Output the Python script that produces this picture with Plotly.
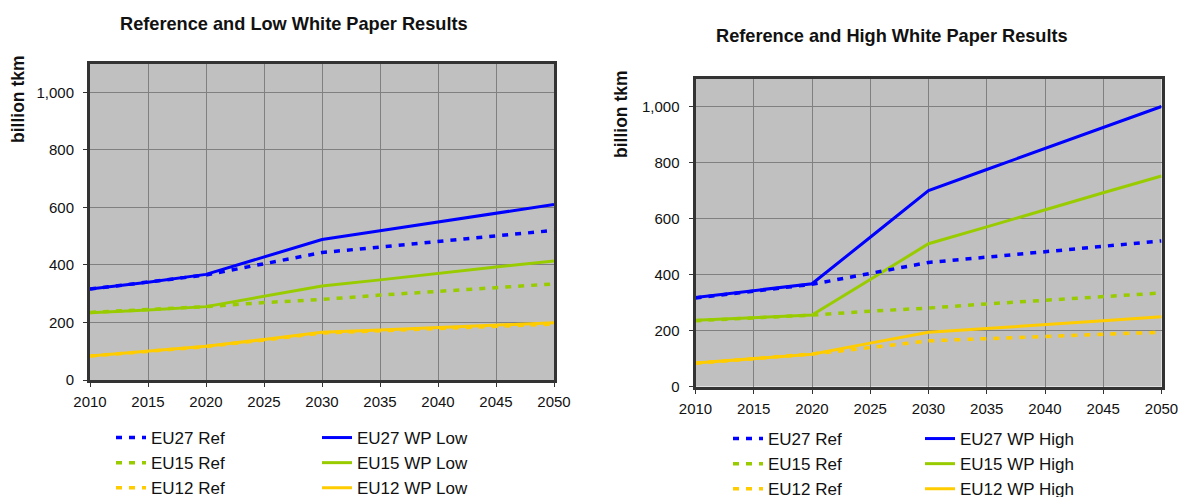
import plotly.graph_objects as go

years = [2010, 2015, 2020, 2025, 2030, 2035, 2040, 2045, 2050]

eu27_ref = [316, 340, 365, 404, 443, 462, 482, 500, 520]
eu15_ref = [235, 244, 255, 269, 280, 295, 307, 319, 334]
eu12_ref = [83, 100, 116, 139, 163, 171, 178, 186, 194]

eu27_low = [316, 340, 367, 428, 488, 519, 549, 580, 610]
eu15_low = [234, 243, 255, 290, 327, 348, 371, 393, 414]
eu12_low = [83, 100, 117, 141, 166, 174, 182, 190, 199]

eu27_high = [318, 342, 367, 533, 700, 775, 850, 925, 1000]
eu15_high = [237, 246, 255, 382, 510, 570, 632, 692, 752]
eu12_high = [84, 100, 115, 155, 194, 207, 220, 235, 249]

y_ticks = [0, 200, 400, 600, 800, 1000]
y_ticktext = ["0", "200", "400", "600", "800", "1,000"]
x_ticks = years

titles = ["Reference and Low White Paper Results", "Reference and High White Paper Results"]
y_title = "billion tkm"

BLUE = "#0000FF"
GREEN = "#99CC00"
YELLOW = "#FFCC00"
FONT = "Liberation Sans, Arial, sans-serif"
TXT = "#111111"

OFF = 0  # body margin removed by the post script below
W, H = 1180, 497


def px_x(s):
    return (s - OFF) / W


def px_y(s):
    return 1 - (s - OFF) / H


fig = go.Figure()


def add_panel(ax, leg_ref, leg_wp, ref_series, wp_series, wp_label):
    xa = "x" if ax == 1 else "x2"
    ya = "y" if ax == 1 else "y2"
    colors = [BLUE, GREEN, YELLOW]
    names = ["EU27", "EU15", "EU12"]
    for vals, c, n in zip(wp_series, colors, names):
        fig.add_trace(go.Scatter(
            x=years, y=vals, mode="lines", name=f"{n} {wp_label}",
            line=dict(color=c, width=3), xaxis=xa, yaxis=ya, legend=leg_wp))
    for vals, c, n in zip(ref_series, colors, names):
        fig.add_trace(go.Scatter(
            x=years, y=vals, mode="lines", name=f"{n} Ref",
            line=dict(color=c, width=3.5, dash="6px,7px"), xaxis=xa, yaxis=ya,
            legend=leg_ref))


add_panel(1, "legend", "legend2", [eu27_ref, eu15_ref, eu12_ref],
          [eu27_low, eu15_low, eu12_low], "WP Low")
add_panel(2, "legend3", "legend4", [eu27_ref, eu15_ref, eu12_ref],
          [eu27_high, eu15_high, eu12_high], "WP High")

axis_common = dict(
    showline=True, mirror=True, linewidth=3, linecolor="#333333",
    showgrid=True, gridcolor="#808080", gridwidth=1,
    ticks="outside", ticklen=4, tickcolor="#333333", tickwidth=1,
    tickfont=dict(family=FONT, size=15, color=TXT),
    zeroline=False,
)


def legend_at(sx, sy):
    return dict(orientation="v", x=px_x(sx), y=px_y(sy), xanchor="left", yanchor="top",
                font=dict(family=FONT, size=17, color=TXT),
                bgcolor="rgba(0,0,0,0)", borderwidth=0, traceorder="normal")


fig.update_layout(
    width=W, height=H,
    margin=dict(l=0, r=0, t=0, b=0, autoexpand=False),
    paper_bgcolor="white",
    plot_bgcolor="#C0C0C0",
    font=dict(family=FONT),
    xaxis=dict(domain=[px_x(90), px_x(554)], range=[2010, 2050],
               tickvals=x_ticks, anchor="y", ticklabelstandoff=2,
               ticklabeloverflow="allow", **axis_common),
    yaxis=dict(domain=[px_y(380), px_y(63.5)], range=[0, 1100],
               tickvals=y_ticks, ticktext=y_ticktext, anchor="x", ticklabelstandoff=6,
               **axis_common),
    xaxis2=dict(domain=[px_x(695.5), px_x(1161.5)], range=[2010, 2050],
                tickvals=x_ticks, anchor="y2", ticklabelstandoff=2,
                ticklabeloverflow="allow", **axis_common),
    yaxis2=dict(domain=[px_y(386.5), px_y(78.5)], range=[0, 1100],
                tickvals=y_ticks, ticktext=y_ticktext, anchor="x2", ticklabelstandoff=6,
                **axis_common),
    legend=legend_at(111, 420),
    legend2=legend_at(317, 420),
    legend3=legend_at(728, 421),
    legend4=legend_at(920, 421),
    showlegend=True,
)

fig.add_annotation(text=f"<b>{titles[0]}</b>", x=px_x(293.5), y=px_y(24), xref="paper", yref="paper",
                   showarrow=False, xanchor="center", yanchor="middle",
                   font=dict(family=FONT, size=18.2, color=TXT))
fig.add_annotation(text=f"<b>{titles[1]}</b>", x=px_x(892), y=px_y(36), xref="paper", yref="paper",
                   showarrow=False, xanchor="center", yanchor="middle",
                   font=dict(family=FONT, size=18.2, color=TXT))
fig.add_annotation(text=f"<b>{y_title}</b>", x=px_x(18), y=px_y(99), xref="paper", yref="paper",
                   showarrow=False, xanchor="center", yanchor="middle", textangle=-90,
                   font=dict(family=FONT, size=17.5, color=TXT))
fig.add_annotation(text=f"<b>{y_title}</b>", x=px_x(621), y=px_y(114), xref="paper", yref="paper",
                   showarrow=False, xanchor="center", yanchor="middle", textangle=-90,
                   font=dict(family=FONT, size=17.5, color=TXT))

fig.write_html(
    "out.html",
    config={"displayModeBar": False},
    post_script="document.documentElement.style.overflow='hidden';"
                "document.body.style.margin='0px';document.body.style.overflow='hidden';",
)
